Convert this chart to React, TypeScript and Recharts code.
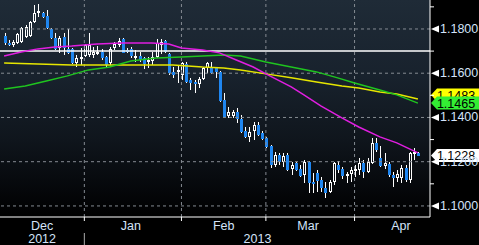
import {
  Bar,
  ComposedChart,
  Line,
  ReferenceLine,
  XAxis,
  YAxis,
} from 'recharts'

// trading days shown, per month
const decDays = [5, 6, 7, 10, 11, 12, 13, 14, 17, 18, 19, 20, 21, 24, 25, 26, 27, 28, 31]
const janDays = [1, 2, 3, 4, 7, 8, 9, 10, 11, 14, 15, 16, 17, 18, 21, 22, 23, 24, 25, 28, 29, 30, 31]
const febDays = [1, 4, 5, 6, 7, 8, 11, 12, 13, 14, 15, 18, 19, 20, 21, 22, 25, 26, 27, 28]
const marDays = [1, 4, 5, 6, 7, 8, 11, 12, 13, 14, 15, 18, 19, 20, 21, 22, 25, 26, 27, 28, 29]
const aprDays = [1, 2, 3, 4, 5, 8, 9, 10, 11, 12, 15, 16, 17, 18, 19, 22]

const opens = [
  1.1768, 1.1737, 1.1728, 1.1737, 1.1741, 1.1764, 1.1768, 1.1832, 1.1872, 1.1872,
  1.1859, 1.18, 1.1759, 1.1714, 1.1764, 1.171, 1.171, 1.1646, 1.1669, 1.1678,
  1.1682, 1.1682, 1.1692, 1.1696, 1.1673, 1.1646, 1.1714, 1.1728, 1.1755, 1.1705,
  1.171, 1.1673, 1.1678, 1.1669, 1.1651, 1.1655, 1.1673, 1.1728, 1.1746, 1.1687,
  1.1606, 1.1606, 1.1592, 1.1642, 1.157, 1.156, 1.1551, 1.1574, 1.1624, 1.1628,
  1.1628, 1.1606, 1.1479, 1.1407, 1.1407, 1.1425, 1.1393, 1.1339, 1.1312, 1.1339,
  1.1366, 1.133, 1.1307, 1.1271, 1.1185, 1.1231, 1.1199, 1.1231, 1.1167, 1.1194,
  1.1167, 1.114, 1.1199, 1.1108, 1.1149, 1.1117, 1.1081, 1.1063, 1.1108, 1.1185,
  1.1167, 1.1136, 1.1145, 1.1158, 1.1163, 1.1194, 1.1154, 1.1194, 1.1285, 1.1217,
  1.1181, 1.119, 1.114, 1.1127, 1.1127, 1.1172, 1.1117, 1.124, 1.124,
]
const highs = [
  1.1782, 1.175, 1.175, 1.1782, 1.1809, 1.1818, 1.1836, 1.1908, 1.1913, 1.1877,
  1.1886, 1.1805, 1.1782, 1.1768, 1.1782, 1.18, 1.1714, 1.1682, 1.1714, 1.1732,
  1.1782, 1.1719, 1.1723, 1.171, 1.1678, 1.1719, 1.1741, 1.1759, 1.1759, 1.1714,
  1.1719, 1.1705, 1.1696, 1.1673, 1.1673, 1.1696, 1.1755, 1.1755, 1.175, 1.1692,
  1.1628, 1.1633, 1.1651, 1.1651, 1.1579, 1.157, 1.1583, 1.1628, 1.1651, 1.1651,
  1.163, 1.1608, 1.1511, 1.1447, 1.1434, 1.1443, 1.1411, 1.1357, 1.1357, 1.138,
  1.138, 1.1339, 1.1312, 1.1276, 1.1244, 1.124, 1.124, 1.124, 1.1199, 1.1199,
  1.1185, 1.1208, 1.1203, 1.1149, 1.1163, 1.1131, 1.1108, 1.1117, 1.1199, 1.1203,
  1.1176, 1.1154, 1.1176, 1.1185, 1.1217, 1.1208, 1.1217, 1.1307, 1.1307, 1.1271,
  1.124, 1.1199, 1.1154, 1.1163, 1.1185, 1.1185, 1.1242, 1.1262, 1.1244,
]
const lows = [
  1.1728, 1.1723, 1.1719, 1.1732, 1.1737, 1.1759, 1.1764, 1.1827, 1.1854, 1.185,
  1.18, 1.1755, 1.1705, 1.1692, 1.1682, 1.1687, 1.1642, 1.1628, 1.1637, 1.1673,
  1.1673, 1.1669, 1.1682, 1.166, 1.1628, 1.1637, 1.1705, 1.1719, 1.169, 1.1692,
  1.1669, 1.1651, 1.1651, 1.1619, 1.1624, 1.1637, 1.1669, 1.1687, 1.1692, 1.1592,
  1.1579, 1.1556, 1.157, 1.1556, 1.1524, 1.1511, 1.1533, 1.157, 1.1601, 1.1597,
  1.1579, 1.147, 1.14, 1.1398, 1.1398, 1.1375, 1.133, 1.1307, 1.1289, 1.1298,
  1.1316, 1.1298, 1.1262, 1.1172, 1.1176, 1.1185, 1.1176, 1.1158, 1.114, 1.1158,
  1.1131, 1.1104, 1.1059, 1.1059, 1.1063, 1.1063, 1.1036, 1.1059, 1.1095, 1.1149,
  1.1122, 1.1104, 1.1108, 1.1131, 1.114, 1.1127, 1.1149, 1.119, 1.1244, 1.1176,
  1.1167, 1.1131, 1.1086, 1.1108, 1.1104, 1.1108, 1.1104, 1.1208, 1.1226,
]
const closes = [
  1.1737, 1.1728, 1.1741, 1.1777, 1.1805, 1.1809, 1.1832, 1.1872, 1.1881, 1.1854,
  1.1805, 1.1759, 1.171, 1.1759, 1.1714, 1.1692, 1.1646, 1.1669, 1.1673, 1.1728,
  1.1728, 1.1696, 1.1696, 1.1669, 1.1637, 1.171, 1.1732, 1.1746, 1.1692, 1.1696,
  1.1678, 1.1678, 1.166, 1.1642, 1.166, 1.1673, 1.1737, 1.1741, 1.1696, 1.1601,
  1.1592, 1.1615, 1.1646, 1.156, 1.1556, 1.1551, 1.1574, 1.1624, 1.1646, 1.1601,
  1.1606, 1.1475, 1.1402, 1.1425, 1.1425, 1.1393, 1.1334, 1.1312, 1.1334, 1.1366,
  1.1321, 1.1303, 1.1267, 1.1185, 1.1231, 1.1199, 1.1226, 1.1163, 1.1185, 1.1163,
  1.1136, 1.1199, 1.1104, 1.1099, 1.1113, 1.1081, 1.1059, 1.1108, 1.1194, 1.1163,
  1.1136, 1.1145, 1.1163, 1.1167, 1.1194, 1.1154, 1.1199, 1.1285, 1.1253, 1.1181,
  1.1194, 1.114, 1.1127, 1.1145, 1.1172, 1.1117, 1.124, 1.1244, 1.1228,
]

// moving averages, read at a few dates
const maFast: [string, number][] = [
  ['2012-12-05', 1.1678], ['2012-12-11', 1.1696], ['2012-12-17', 1.171], ['2012-12-21', 1.1719],
  ['2012-12-27', 1.1723], ['2013-01-04', 1.1732], ['2013-01-14', 1.1737], ['2013-01-23', 1.1737],
  ['2013-01-29', 1.1732], ['2013-02-01', 1.1714], ['2013-02-08', 1.1705], ['2013-02-14', 1.1692],
  ['2013-02-20', 1.166], ['2013-02-26', 1.1628], ['2013-03-01', 1.1597], ['2013-03-11', 1.1538],
  ['2013-03-14', 1.1502], ['2013-03-20', 1.1452], ['2013-03-27', 1.1398], ['2013-04-02', 1.1357],
  ['2013-04-09', 1.1312], ['2013-04-15', 1.1285], ['2013-04-18', 1.1258], ['2013-04-22', 1.124],
]
const maSlow: [string, number][] = [
  ['2012-12-05', 1.1529], ['2012-12-12', 1.1542], ['2012-12-19', 1.1565], ['2012-12-26', 1.1588],
  ['2013-01-02', 1.1615], ['2013-01-09', 1.1628], ['2013-01-16', 1.1655], ['2013-01-24', 1.1669],
  ['2013-02-01', 1.1673], ['2013-02-08', 1.1678], ['2013-02-15', 1.1682], ['2013-02-21', 1.1678],
  ['2013-03-01', 1.1651], ['2013-03-11', 1.1628], ['2013-03-19', 1.1606], ['2013-03-26', 1.1579],
  ['2013-04-01', 1.1556], ['2013-04-09', 1.1524], ['2013-04-15', 1.1502], ['2013-04-22', 1.1465],
]
const maMid: [string, number][] = [
  ['2012-12-05', 1.1646], ['2012-12-17', 1.1642], ['2012-12-27', 1.1637], ['2013-01-08', 1.1637],
  ['2013-01-18', 1.1637], ['2013-01-30', 1.1637], ['2013-02-08', 1.1628], ['2013-02-15', 1.1624],
  ['2013-02-21', 1.1615], ['2013-03-01', 1.1597], ['2013-03-11', 1.1579], ['2013-03-19', 1.156],
  ['2013-03-27', 1.1542], ['2013-04-02', 1.1533], ['2013-04-09', 1.1515], ['2013-04-15', 1.1506],
  ['2013-04-22', 1.1483],
]

const gridLevels = [1.1, 1.12, 1.14, 1.16, 1.18]
const axisTicks = [1.1, 1.11, 1.12, 1.13, 1.14, 1.15, 1.16, 1.17, 1.18, 1.19]
const barrier = 1.17
const monthStarts = ['2013-01-01', '2013-02-01', '2013-03-01', '2013-04-01']
const monthLabels: Record<string, string> = {
  '2012-12-18': 'Dec',
  '2013-01-16': 'Jan',
  '2013-02-15': 'Feb',
  '2013-03-15': 'Mar',
  '2013-04-16': 'Apr',
}
const yearLabels: Record<string, string> = {
  '2012-12-18': '2012',
  '2013-02-27': '2013',
}

const W = 479
const H = 245
const FONT = '"Liberation Sans", Arial, sans-serif'
const AXIS_TEXT = '#d4e4fa'
const BLUE = '#1f86f0'

const pad = (d: number) => String(d).padStart(2, '0')
const dates = [
  ...decDays.map((d) => `2012-12-${pad(d)}`),
  ...janDays.map((d) => `2013-01-${pad(d)}`),
  ...febDays.map((d) => `2013-02-${pad(d)}`),
  ...marDays.map((d) => `2013-03-${pad(d)}`),
  ...aprDays.map((d) => `2013-04-${pad(d)}`),
]

const lookup = (list: [string, number][], date: string) => {
  const hit = list.find((p) => p[0] === date)
  return hit ? hit[1] : null
}

const data = dates.map((date, i) => ({
  date,
  open: opens[i],
  high: highs[i],
  low: lows[i],
  close: closes[i],
  range: [lows[i], highs[i]],
  maFast: lookup(maFast, date),
  maSlow: lookup(maSlow, date),
  maMid: lookup(maMid, date),
}))

const Candle = (props: any) => {
  const { x, y, width, height, payload } = props
  const { open, high, low, close } = payload
  const top = Math.min(y, y + height)
  const h = Math.abs(height)
  const toY = (p: number) => top + ((high - p) / (high - low || 1)) * h
  const cx = Math.round(x + width / 2)
  const bodyTop = Math.round(toY(Math.max(open, close)))
  const bodyBot = Math.max(Math.round(toY(Math.min(open, close))), bodyTop + 2)
  const up = close >= open
  const wTop = Math.round(top)
  const wBot = Math.round(top + h)
  return (
    <g>
      {bodyTop > wTop && <rect x={cx} y={wTop} width={1} height={bodyTop - wTop} fill="#fff" />}
      {wBot > bodyBot && <rect x={cx} y={bodyBot} width={1} height={wBot - bodyBot} fill="#fff" />}
      {up ? (
        <rect
          x={cx - 0.5}
          y={bodyTop + 0.5}
          width={2}
          height={bodyBot - bodyTop - 1}
          fill="none"
          stroke="#fff"
          strokeWidth={1}
        />
      ) : (
        <rect x={cx - 1} y={bodyTop} width={3} height={bodyBot - bodyTop} fill={BLUE} />
      )}
    </g>
  )
}

const PriceTick = (props: any) => {
  const { x, y, payload } = props
  const v = payload.value as number
  const major = Math.round(v * 100) % 2 === 0
  if (!major) return <line x1={x} x2={x + 4} y1={y} y2={y} stroke="#fff" strokeWidth={1} />
  return (
    <g>
      <polygon points={`${x + 1},${y} ${x + 9},${y - 3.5} ${x + 9},${y + 3.5}`} fill="#fff" />
      <text
        x={x + 10}
        y={y}
        dominantBaseline="central"
        fill={AXIS_TEXT}
        fontSize={12.5}
        fontFamily={FONT}
      >
        {v.toFixed(4)}
      </text>
    </g>
  )
}

const DateTick = (props: any) => {
  const { x, y, payload } = props
  const date = payload.value as string
  const parts = []
  if (monthStarts.includes(date)) {
    parts.push(<line key="t" x1={x} x2={x} y1={y} y2={y + 4} stroke="#fff" />)
    if (date.endsWith('01-01')) {
      parts.push(<line key="s" x1={x} x2={x} y1={y + 16} y2={H} stroke="#aaa" />)
    }
  }
  if (monthLabels[date]) {
    parts.push(
      <text key="m" x={x} y={y + 9} textAnchor="middle" dominantBaseline="central" fill={AXIS_TEXT} fontSize={12.5} fontFamily={FONT}>
        {monthLabels[date]}
      </text>,
    )
  }
  if (yearLabels[date]) {
    parts.push(
      <text key="y" x={x} y={y + 22} textAnchor="middle" dominantBaseline="central" fill={AXIS_TEXT} fontSize={12.5} fontFamily={FONT}>
        {yearLabels[date]}
      </text>,
    )
  }
  return <g>{parts}</g>
}

const PriceTag = ({ viewBox, value, color, shift = 0 }: any) => {
  if (!viewBox) return null
  const tipX = viewBox.x + viewBox.width + 1
  const cy = viewBox.y + shift
  return (
    <g>
      <polygon
        points={`${tipX},${cy} ${tipX + 6},${cy - 6.5} ${W},${cy - 6.5} ${W},${cy + 6.5} ${tipX + 6},${cy + 6.5}`}
        fill={color}
      />
      <text
        x={tipX + 25}
        y={cy + 0.5}
        textAnchor="middle"
        dominantBaseline="central"
        fill="#000"
        fontSize={12.5}
        fontFamily={FONT}
      >
        {value.toFixed(4)}
      </text>
    </g>
  )
}

const last = data[data.length - 1]

export default function App() {
  return (
    <div
      style={{
        position: 'fixed',
        left: 0,
        top: 0,
        width: W,
        height: H,
        background: '#000',
        overflow: 'hidden',
      }}
    >
      <div
        style={{
          position: 'absolute',
          left: 0,
          top: 0,
          width: 430,
          height: 217,
          background:
            'linear-gradient(to bottom, #1f2b37 0%, #18222d 35%, #0f151c 65%, #05070a 88%, #000 100%)',
        }}
      />
      <div style={{ position: 'absolute', left: 0, top: 0 }}>
        <ComposedChart
          width={W}
          height={H}
          data={data}
          margin={{ top: 0, right: 0, bottom: 0, left: 0 }}
        >
          {gridLevels.map((v) => (
            <ReferenceLine key={v} y={v} stroke="#858b92" strokeDasharray="3 3" />
          ))}
          {monthStarts.map((d) => (
            <ReferenceLine key={d} x={d} stroke="#858b92" strokeDasharray="3 3" />
          ))}
          <XAxis
            dataKey="date"
            type="category"
            height={28}
            padding={{ left: 2, right: 10 }}
            interval={0}
            tickSize={0}
            tickMargin={0}
            tickLine={false}
            axisLine={{ stroke: '#fff' }}
            tick={<DateTick />}
          />
          <YAxis
            orientation="right"
            type="number"
            domain={[1.095, 1.1931]}
            allowDataOverflow
            ticks={axisTicks}
            interval={0}
            width={49}
            tickSize={0}
            tickMargin={0}
            tickLine={false}
            axisLine={{ stroke: '#fff' }}
            tick={<PriceTick />}
          />
          <ReferenceLine y={barrier} stroke="#fff" strokeWidth={1.5} />
          <Line dataKey="maMid" stroke="#e6e600" strokeWidth={1.5} dot={false} activeDot={false} connectNulls isAnimationActive={false} />
          <Line dataKey="maSlow" stroke="#1fc41f" strokeWidth={1.5} dot={false} activeDot={false} connectNulls isAnimationActive={false} />
          <Line dataKey="maFast" stroke="#e01ee0" strokeWidth={1.5} dot={false} activeDot={false} connectNulls isAnimationActive={false} />
          <Bar dataKey="range" barSize={3} shape={<Candle />} isAnimationActive={false} />
          <ReferenceLine
            y={last.maMid as number}
            stroke="none"
            label={(p: any) => <PriceTag {...p} value={last.maMid} color="#ffff00" shift={-4} />}
          />
          <ReferenceLine
            y={last.maSlow as number}
            stroke="none"
            label={(p: any) => <PriceTag {...p} value={last.maSlow} color="#33ee33" />}
          />
          <ReferenceLine
            y={last.close}
            stroke="none"
            label={(p: any) => <PriceTag {...p} value={last.close} color="#ffffff" />}
          />
        </ComposedChart>
      </div>
    </div>
  )
}
